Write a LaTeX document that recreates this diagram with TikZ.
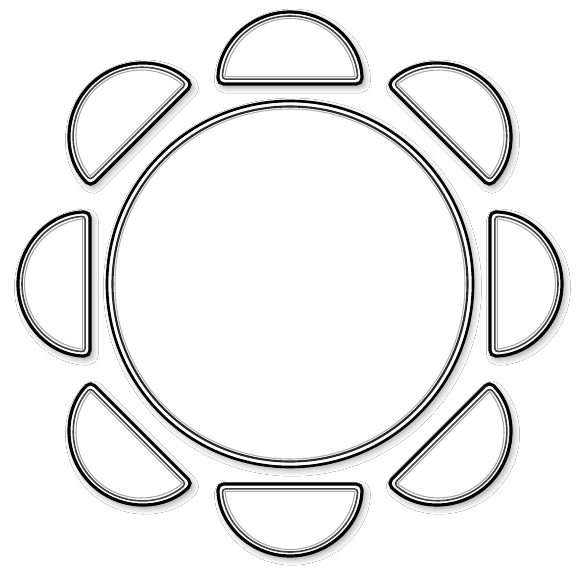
\documentclass[tikz,border=0pt]{standalone}
\usetikzlibrary{shadows.blur}

\tikzset{
  tableline/.style={draw=black, line width=0.75pt, fill=white,
    blur shadow={shadow xshift=0.7pt, shadow yshift=-0.9pt, shadow blur steps=6, shadow opacity=35}},
  tableinner/.style={draw=black!85, line width=0.6pt},
  tablefaint/.style={draw=black!30, line width=0.3pt},
  seatline/.style={draw=black, line width=0.9pt, fill=white, rounded corners=1.6pt,
    blur shadow={shadow xshift=0.7pt, shadow yshift=-0.9pt, shadow blur steps=6, shadow opacity=40}},
  seatinner/.style={draw=black!75, line width=0.45pt, rounded corners=1pt},
  seatfaint/.style={draw=black!35, line width=0.3pt},
  chair/.pic={
    % outer rim
    \path[seatline] (-0.72,0) arc[start angle=180, end angle=0, radius=0.72] -- cycle;
    % inner rims
    \path[seatinner] (175.9:0.68) arc[start angle=175.9, end angle=4.1, radius=0.68] -- cycle;
    \path[seatfaint] (173.6:0.655) arc[start angle=173.6, end angle=6.4, radius=0.655] -- cycle;
  }
}

\begin{document}
\begin{tikzpicture}
  \useasboundingbox[fill=white] (0,0) rectangle (5.80,5.68);
  \coordinate (centre) at (2.90,2.84);

  % table
  \path[tableline] (centre) circle[radius=1.83];
  \path[tableinner] (centre) circle[radius=1.775];
  \path[tablefaint] (centre) circle[radius=1.75];

  % chairs
  \foreach \ang in {0,90,180,270}
    \pic[rotate=\ang-90] at ($(centre)+(\ang:2.0)$) {chair};
  \foreach \ang in {45,135,225,315}
    \pic[rotate=\ang-90] at ($(centre)+(\ang:2.1)$) {chair};
\end{tikzpicture}
\end{document}
